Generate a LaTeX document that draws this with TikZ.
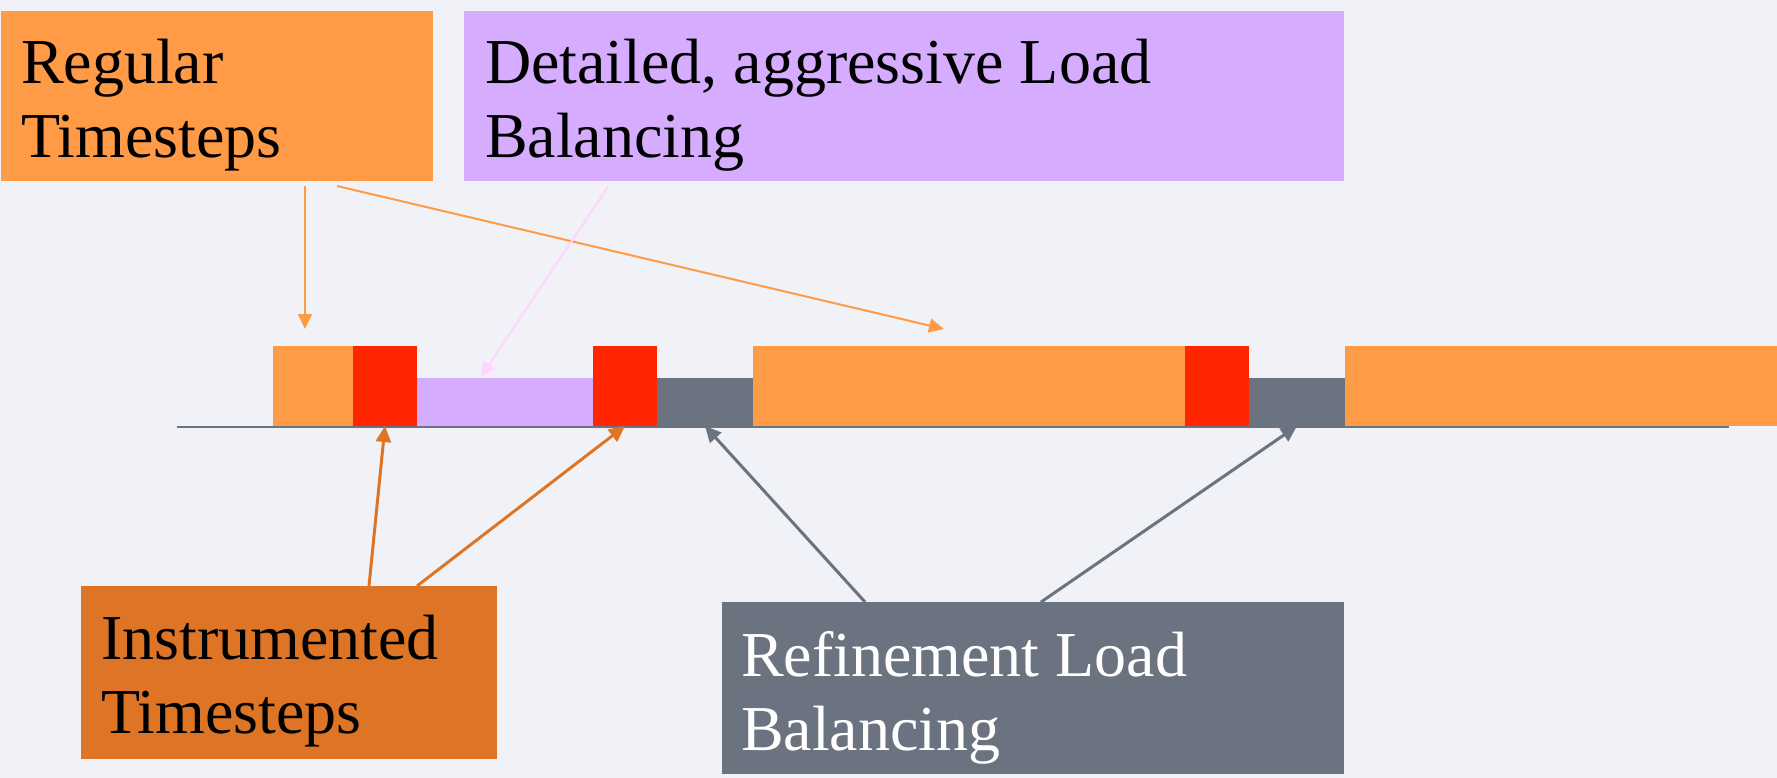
\documentclass[tikz,border=0pt]{standalone}
\usepackage{fontspec}
\setmainfont{Liberation Serif}
\usetikzlibrary{arrows.meta}
\definecolor{bg}{HTML}{F1F2F7}
\definecolor{regorange}{HTML}{FF9A47}
\definecolor{lbpurple}{HTML}{D6ACFF}
\definecolor{instred}{HTML}{FF2600}
\definecolor{refgray}{HTML}{6B7280}
\definecolor{instorange}{HTML}{DE7526}
\definecolor{pinkarrow}{HTML}{FFD6FF}
\begin{document}
\begin{tikzpicture}[x=1pt,y=-1pt,
  box/.style={anchor=north west, inner sep=0pt, outer sep=0pt, draw=none},
  lbl/.style={anchor=north west, inner sep=0pt, outer sep=0pt, align=left, font=\fontsize{64}{74}\selectfont},
  bar/.style={anchor=south west, inner sep=0pt, outer sep=0pt, draw=none, minimum height=80pt},
  lowbar/.style={anchor=south west, inner sep=0pt, outer sep=0pt, draw=none, minimum height=48pt},
  thinarrow/.style={line width=2pt, -{Triangle[length=15pt,width=14pt]}},
  thickarrow/.style={line width=3pt, -{Triangle[length=16pt,width=15pt]}},
]
\useasboundingbox[fill=bg] (0,0) rectangle (1777,778);

% label boxes
\node[box, fill=regorange, minimum width=432pt, minimum height=170pt] (regbox) at (1,11) {};
\node[box, fill=lbpurple, minimum width=880pt, minimum height=170pt] (detbox) at (464,11) {};
\node[box, fill=instorange, minimum width=416pt, minimum height=173pt] (insbox) at (81,586) {};
\node[box, fill=refgray, minimum width=622pt, minimum height=172pt] (refbox) at (722,602) {};

\node[lbl] (regtxt) at (21,39) {Regular\\Timesteps};
\node[lbl] (dettxt) at (485,39) {Detailed, aggressive Load\\Balancing};
\node[lbl] (instxt) at (101,615) {Instrumented\\Timesteps};
\node[lbl, text=white] (reftxt) at (741,631) {Refinement Load\\Balancing};

% timeline
\coordinate (tlstart) at (177,427);
\coordinate (tlend) at (1729,427);
\draw[refgray, line width=2pt] (tlstart) -- (tlend);

\node[bar, fill=regorange, minimum width=80pt] (o1) at (273,426) {};
\node[bar, fill=instred, minimum width=64pt] (r1) at (353,426) {};
\node[lowbar, fill=lbpurple, minimum width=176pt] (p1) at (417,426) {};
\node[bar, fill=instred, minimum width=64pt] (r2) at (593,426) {};
\node[lowbar, fill=refgray, minimum width=96pt] (g1) at (657,426) {};
\node[bar, fill=regorange, minimum width=432pt] (o2) at (753,426) {};
\node[bar, fill=instred, minimum width=64pt] (r3) at (1185,426) {};
\node[lowbar, fill=refgray, minimum width=96pt] (g2) at (1249,426) {};
\node[bar, fill=regorange, minimum width=432pt] (o3) at (1345,426) {};

% arrow end points
\coordinate (regdowntip) at (305,329);
\coordinate (regdiagtip) at (944,329);
\coordinate (dettip) at (481,377);

\draw[thinarrow, regorange] ([xshift=88pt,yshift=-5pt]regbox.south) -- (regdowntip);
\draw[thinarrow, regorange] ([xshift=120pt,yshift=-5pt]regbox.south) -- (regdiagtip);
\draw[thinarrow, pinkarrow] ([xshift=-295.5pt,yshift=-5pt]detbox.south) -- (dettip);

\draw[thickarrow, instorange] ([xshift=80pt]insbox.north) -- (r1.south);
\draw[thickarrow, instorange] ([xshift=128pt]insbox.north) -- (r2.south);
\draw[thickarrow, refgray] ([xshift=-168pt]refbox.north) -- (g1.south);
\draw[thickarrow, refgray] ([xshift=8pt]refbox.north) -- (g2.south);
\end{tikzpicture}
\end{document}
